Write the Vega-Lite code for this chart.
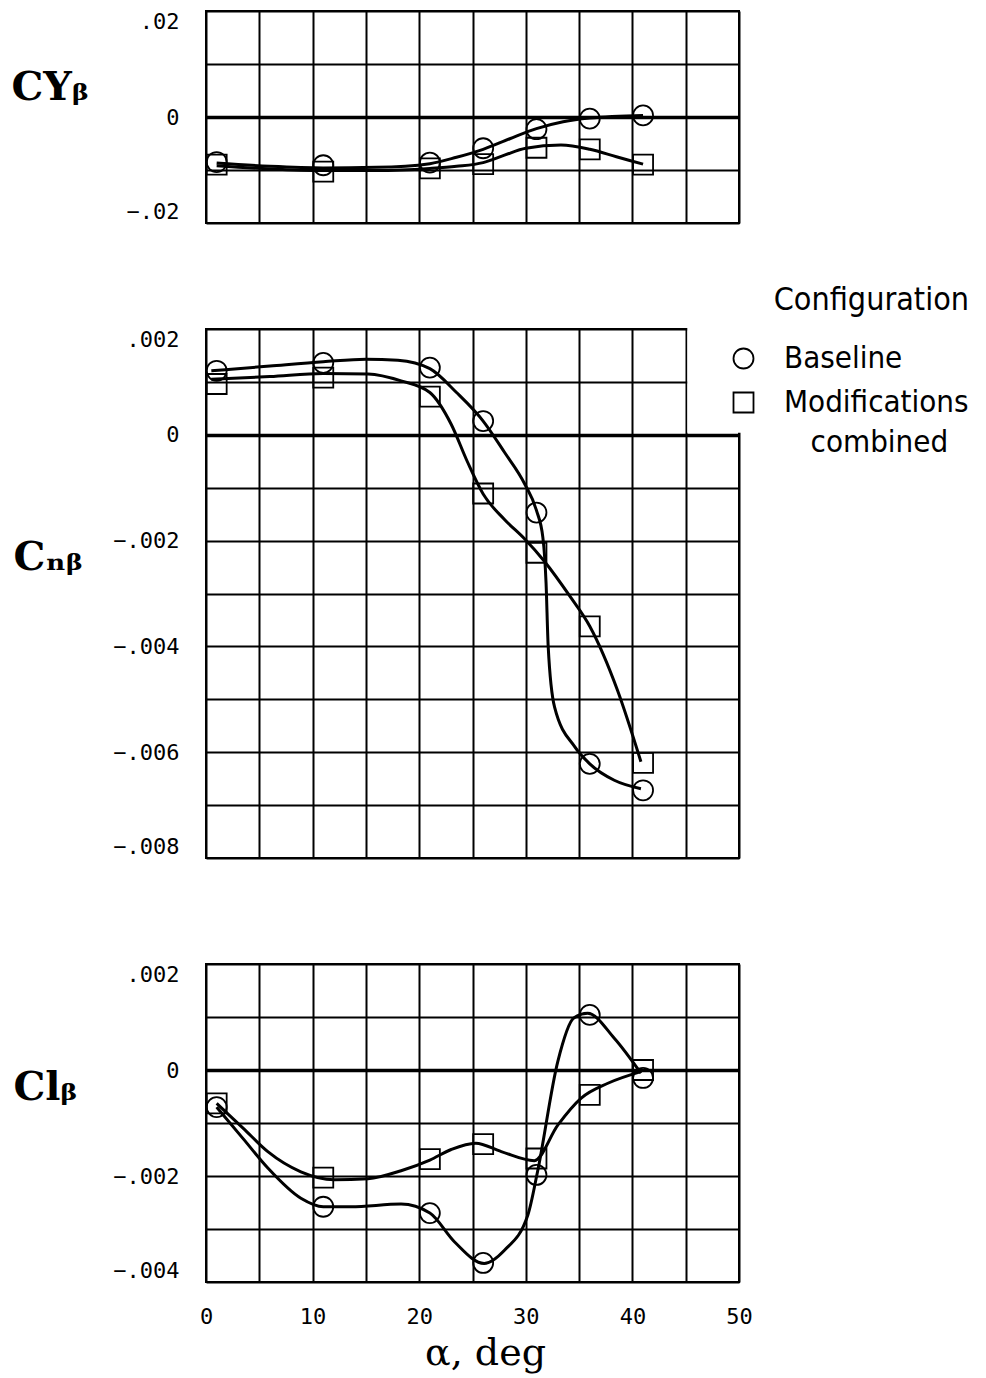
{
"$schema": "https://vega.github.io/schema/vega-lite/v6.json",
"background": "white",
"padding": {"left": 10, "top": 9, "right": 4, "bottom": 4},
"autosize": {"type": "pad"},
"bounds": "flush",
"spacing": 106,
"config": {
 "view": {"stroke": "black", "strokeWidth": 2},
 "style": {"guide-label": {"lineHeight": 40}},
 "axis": {"gridColor": "black", "gridOpacity": 1, "domain": false, "ticks": false, "labelColor": "black", "labelFont": "DejaVu Sans Mono", "labelFontSize": 22, "titleColor": "black", "labelOverlap": false}
},
"datasets": {"d": [
{"panel":"CY","kind":"pt","config":"Baseline","alpha":1,"value":-0.0085},
{"panel":"CY","kind":"pt","config":"Baseline","alpha":11,"value":-0.0091},
{"panel":"CY","kind":"pt","config":"Baseline","alpha":21,"value":-0.0086},
{"panel":"CY","kind":"pt","config":"Baseline","alpha":26,"value":-0.0059},
{"panel":"CY","kind":"pt","config":"Baseline","alpha":31,"value":-0.0023},
{"panel":"CY","kind":"pt","config":"Baseline","alpha":36,"value":-0.0003},
{"panel":"CY","kind":"pt","config":"Baseline","alpha":41,"value":0.0003},
{"panel":"CY","kind":"pt","config":"Modifications combined","alpha":1,"value":-0.0090},
{"panel":"CY","kind":"pt","config":"Modifications combined","alpha":11,"value":-0.0103},
{"panel":"CY","kind":"pt","config":"Modifications combined","alpha":21,"value":-0.0097},
{"panel":"CY","kind":"pt","config":"Modifications combined","alpha":26,"value":-0.0089},
{"panel":"CY","kind":"pt","config":"Modifications combined","alpha":31,"value":-0.0058},
{"panel":"CY","kind":"pt","config":"Modifications combined","alpha":36,"value":-0.0061},
{"panel":"CY","kind":"pt","config":"Modifications combined","alpha":41,"value":-0.0090},
{"panel":"CY","kind":"cv","config":"Baseline","alpha":1,"value":-0.0087},
{"panel":"CY","kind":"cv","config":"Baseline","alpha":6,"value":-0.0093},
{"panel":"CY","kind":"cv","config":"Baseline","alpha":11,"value":-0.0096},
{"panel":"CY","kind":"cv","config":"Baseline","alpha":16,"value":-0.0095},
{"panel":"CY","kind":"cv","config":"Baseline","alpha":21,"value":-0.0088},
{"panel":"CY","kind":"cv","config":"Baseline","alpha":23.5,"value":-0.0076},
{"panel":"CY","kind":"cv","config":"Baseline","alpha":26,"value":-0.0061},
{"panel":"CY","kind":"cv","config":"Baseline","alpha":28.5,"value":-0.0041},
{"panel":"CY","kind":"cv","config":"Baseline","alpha":31,"value":-0.0022},
{"panel":"CY","kind":"cv","config":"Baseline","alpha":33.5,"value":-0.0009},
{"panel":"CY","kind":"cv","config":"Baseline","alpha":36,"value":-0.0002},
{"panel":"CY","kind":"cv","config":"Baseline","alpha":41,"value":0.0003},
{"panel":"CY","kind":"cv","config":"Modifications combined","alpha":1,"value":-0.0092},
{"panel":"CY","kind":"cv","config":"Modifications combined","alpha":6,"value":-0.0098},
{"panel":"CY","kind":"cv","config":"Modifications combined","alpha":11,"value":-0.0101},
{"panel":"CY","kind":"cv","config":"Modifications combined","alpha":16,"value":-0.0101},
{"panel":"CY","kind":"cv","config":"Modifications combined","alpha":21,"value":-0.0097},
{"panel":"CY","kind":"cv","config":"Modifications combined","alpha":23.5,"value":-0.0093},
{"panel":"CY","kind":"cv","config":"Modifications combined","alpha":26,"value":-0.0086},
{"panel":"CY","kind":"cv","config":"Modifications combined","alpha":28,"value":-0.0072},
{"panel":"CY","kind":"cv","config":"Modifications combined","alpha":30,"value":-0.0059},
{"panel":"CY","kind":"cv","config":"Modifications combined","alpha":33.3,"value":-0.0053},
{"panel":"CY","kind":"cv","config":"Modifications combined","alpha":36,"value":-0.0061},
{"panel":"CY","kind":"cv","config":"Modifications combined","alpha":38.5,"value":-0.0075},
{"panel":"CY","kind":"cv","config":"Modifications combined","alpha":41,"value":-0.0089},
{"panel":"CN","kind":"pt","config":"Baseline","alpha":1,"value":0.00121},
{"panel":"CN","kind":"pt","config":"Baseline","alpha":11,"value":0.00136},
{"panel":"CN","kind":"pt","config":"Baseline","alpha":21,"value":0.00127},
{"panel":"CN","kind":"pt","config":"Baseline","alpha":26,"value":0.00026},
{"panel":"CN","kind":"pt","config":"Baseline","alpha":31,"value":-0.00147},
{"panel":"CN","kind":"pt","config":"Baseline","alpha":36,"value":-0.00622},
{"panel":"CN","kind":"pt","config":"Baseline","alpha":41,"value":-0.00672},
{"panel":"CN","kind":"pt","config":"Modifications combined","alpha":1,"value":0.00096},
{"panel":"CN","kind":"pt","config":"Modifications combined","alpha":11,"value":0.00108},
{"panel":"CN","kind":"pt","config":"Modifications combined","alpha":21,"value":0.00072},
{"panel":"CN","kind":"pt","config":"Modifications combined","alpha":26,"value":-0.00111},
{"panel":"CN","kind":"pt","config":"Modifications combined","alpha":31,"value":-0.00223},
{"panel":"CN","kind":"pt","config":"Modifications combined","alpha":36,"value":-0.00362},
{"panel":"CN","kind":"pt","config":"Modifications combined","alpha":41,"value":-0.0062},
{"panel":"CN","kind":"cv","config":"Baseline","alpha":0.5,"value":0.00121},
{"panel":"CN","kind":"cv","config":"Baseline","alpha":6,"value":0.0013},
{"panel":"CN","kind":"cv","config":"Baseline","alpha":11,"value":0.00138},
{"panel":"CN","kind":"cv","config":"Baseline","alpha":15,"value":0.00143},
{"panel":"CN","kind":"cv","config":"Baseline","alpha":18,"value":0.00141},
{"panel":"CN","kind":"cv","config":"Baseline","alpha":21,"value":0.00125},
{"panel":"CN","kind":"cv","config":"Baseline","alpha":23.5,"value":0.0008},
{"panel":"CN","kind":"cv","config":"Baseline","alpha":26,"value":0.00026},
{"panel":"CN","kind":"cv","config":"Baseline","alpha":28,"value":-0.00033},
{"panel":"CN","kind":"cv","config":"Baseline","alpha":29.9,"value":-0.00093},
{"panel":"CN","kind":"cv","config":"Baseline","alpha":31,"value":-0.00143},
{"panel":"CN","kind":"cv","config":"Baseline","alpha":31.6,"value":-0.00194},
{"panel":"CN","kind":"cv","config":"Baseline","alpha":31.9,"value":-0.0028},
{"panel":"CN","kind":"cv","config":"Baseline","alpha":32.1,"value":-0.004},
{"panel":"CN","kind":"cv","config":"Baseline","alpha":32.7,"value":-0.00515},
{"panel":"CN","kind":"cv","config":"Baseline","alpha":34.6,"value":-0.0059},
{"panel":"CN","kind":"cv","config":"Baseline","alpha":36,"value":-0.00622},
{"panel":"CN","kind":"cv","config":"Baseline","alpha":38.3,"value":-0.00653},
{"panel":"CN","kind":"cv","config":"Baseline","alpha":40.8,"value":-0.00669},
{"panel":"CN","kind":"cv","config":"Modifications combined","alpha":0.5,"value":0.00105},
{"panel":"CN","kind":"cv","config":"Modifications combined","alpha":6,"value":0.0011},
{"panel":"CN","kind":"cv","config":"Modifications combined","alpha":11,"value":0.00116},
{"panel":"CN","kind":"cv","config":"Modifications combined","alpha":15.2,"value":0.00115},
{"panel":"CN","kind":"cv","config":"Modifications combined","alpha":18.3,"value":0.00102},
{"panel":"CN","kind":"cv","config":"Modifications combined","alpha":21,"value":0.0008},
{"panel":"CN","kind":"cv","config":"Modifications combined","alpha":23,"value":0.0002},
{"panel":"CN","kind":"cv","config":"Modifications combined","alpha":24.5,"value":-0.0005},
{"panel":"CN","kind":"cv","config":"Modifications combined","alpha":26,"value":-0.00112},
{"panel":"CN","kind":"cv","config":"Modifications combined","alpha":28,"value":-0.0016},
{"panel":"CN","kind":"cv","config":"Modifications combined","alpha":29.9,"value":-0.00197},
{"panel":"CN","kind":"cv","config":"Modifications combined","alpha":31.7,"value":-0.00238},
{"panel":"CN","kind":"cv","config":"Modifications combined","alpha":34.2,"value":-0.00307},
{"panel":"CN","kind":"cv","config":"Modifications combined","alpha":36,"value":-0.00362},
{"panel":"CN","kind":"cv","config":"Modifications combined","alpha":38.6,"value":-0.00483},
{"panel":"CN","kind":"cv","config":"Modifications combined","alpha":40.8,"value":-0.00618},
{"panel":"CL","kind":"pt","config":"Baseline","alpha":1,"value":-0.0007},
{"panel":"CL","kind":"pt","config":"Baseline","alpha":11,"value":-0.00258},
{"panel":"CL","kind":"pt","config":"Baseline","alpha":21,"value":-0.0027},
{"panel":"CL","kind":"pt","config":"Baseline","alpha":26,"value":-0.00364},
{"panel":"CL","kind":"pt","config":"Baseline","alpha":31,"value":-0.00198},
{"panel":"CL","kind":"pt","config":"Baseline","alpha":36,"value":0.00104},
{"panel":"CL","kind":"pt","config":"Baseline","alpha":41,"value":-0.00015},
{"panel":"CL","kind":"pt","config":"Modifications combined","alpha":1,"value":-0.00063},
{"panel":"CL","kind":"pt","config":"Modifications combined","alpha":11,"value":-0.00203},
{"panel":"CL","kind":"pt","config":"Modifications combined","alpha":21,"value":-0.00168},
{"panel":"CL","kind":"pt","config":"Modifications combined","alpha":26,"value":-0.0014},
{"panel":"CL","kind":"pt","config":"Modifications combined","alpha":31,"value":-0.00167},
{"panel":"CL","kind":"pt","config":"Modifications combined","alpha":36,"value":-0.00047},
{"panel":"CL","kind":"pt","config":"Modifications combined","alpha":41,"value":0.0},
{"panel":"CL","kind":"cv","config":"Baseline","alpha":1,"value":-0.0007},
{"panel":"CL","kind":"cv","config":"Baseline","alpha":3.5,"value":-0.0013},
{"panel":"CL","kind":"cv","config":"Baseline","alpha":5.8,"value":-0.00185},
{"panel":"CL","kind":"cv","config":"Baseline","alpha":8.9,"value":-0.00242},
{"panel":"CL","kind":"cv","config":"Baseline","alpha":11,"value":-0.00258},
{"panel":"CL","kind":"cv","config":"Baseline","alpha":13.6,"value":-0.00258},
{"panel":"CL","kind":"cv","config":"Baseline","alpha":18.3,"value":-0.00253},
{"panel":"CL","kind":"cv","config":"Baseline","alpha":21,"value":-0.0027},
{"panel":"CL","kind":"cv","config":"Baseline","alpha":23.3,"value":-0.00324},
{"panel":"CL","kind":"cv","config":"Baseline","alpha":26.1,"value":-0.00365},
{"panel":"CL","kind":"cv","config":"Baseline","alpha":28,"value":-0.0034},
{"panel":"CL","kind":"cv","config":"Baseline","alpha":30.2,"value":-0.00273},
{"panel":"CL","kind":"cv","config":"Baseline","alpha":31.1,"value":-0.00192},
{"panel":"CL","kind":"cv","config":"Baseline","alpha":33,"value":0.00016},
{"panel":"CL","kind":"cv","config":"Baseline","alpha":34.5,"value":0.00098},
{"panel":"CL","kind":"cv","config":"Baseline","alpha":35.8,"value":0.00107},
{"panel":"CL","kind":"cv","config":"Baseline","alpha":38.3,"value":0.0006},
{"panel":"CL","kind":"cv","config":"Baseline","alpha":40.8,"value":-0.00006},
{"panel":"CL","kind":"cv","config":"Modifications combined","alpha":1,"value":-0.00063},
{"panel":"CL","kind":"cv","config":"Modifications combined","alpha":3.5,"value":-0.0011},
{"panel":"CL","kind":"cv","config":"Modifications combined","alpha":5.8,"value":-0.00154},
{"panel":"CL","kind":"cv","config":"Modifications combined","alpha":8.9,"value":-0.00192},
{"panel":"CL","kind":"cv","config":"Modifications combined","alpha":12,"value":-0.00207},
{"panel":"CL","kind":"cv","config":"Modifications combined","alpha":15.2,"value":-0.00205},
{"panel":"CL","kind":"cv","config":"Modifications combined","alpha":18.3,"value":-0.0019},
{"panel":"CL","kind":"cv","config":"Modifications combined","alpha":21,"value":-0.0017},
{"panel":"CL","kind":"cv","config":"Modifications combined","alpha":23,"value":-0.0015},
{"panel":"CL","kind":"cv","config":"Modifications combined","alpha":25.3,"value":-0.00138},
{"panel":"CL","kind":"cv","config":"Modifications combined","alpha":27.7,"value":-0.00154},
{"panel":"CL","kind":"cv","config":"Modifications combined","alpha":30.8,"value":-0.00171},
{"panel":"CL","kind":"cv","config":"Modifications combined","alpha":33,"value":-0.00104},
{"panel":"CL","kind":"cv","config":"Modifications combined","alpha":35.2,"value":-0.00053},
{"panel":"CL","kind":"cv","config":"Modifications combined","alpha":37.7,"value":-0.00025},
{"panel":"CL","kind":"cv","config":"Modifications combined","alpha":40.8,"value":-0.00003}
]},
"vconcat": [
{
 "width": 533, "height": 212,
 "data": {"name": "d"},
 "transform": [{"filter": "datum.panel == 'CY'"}],
 "encoding": {
  "x": {"field": "alpha", "type": "quantitative", "scale": {"domain": [0, 50], "nice": false},
   "axis": {"values": [0,5,10,15,20,25,30,35,40,45,50], "labels": false, "title": null, "grid": true, "gridWidth": 2}},
  "y": {"field": "value", "type": "quantitative", "scale": {"domain": [-0.02, 0.02], "nice": false, "zero": false},
   "axis": {"values": [-0.02,-0.01,0,0.01,0.02], "grid": true,
    "labelExpr": "datum.value == 0 ? '0' : (abs(round(datum.value*100)) % 2 == 1 ? '' : replace(format(datum.value, '.2f'), '0.', '.'))",
    "labelFlush": true, "labelPadding": 27,
    "gridWidth": {"condition": {"test": "datum.value === 0", "value": 3.5}, "value": 2},
    "title": "CYᵦ", "titleAngle": 0, "titleAlign": "left", "titleBaseline": "alphabetic", "titleX": -195, "titleY": 88,
    "titleFont": "DejaVu Serif", "titleFontWeight": "bold", "titleFontSize": 40}}
 },
 "layer": [
  {"transform": [{"filter": "datum.kind == 'cv'"}], "mark": {"type": "line", "interpolate": "monotone", "strokeWidth": 3, "color": "black"}, "encoding": {"detail": {"field": "config"}}},
  {"transform": [{"filter": "datum.kind == 'pt'"}], "mark": {"type": "point", "filled": false, "color": "black", "strokeWidth": 1.8, "size": 400, "opacity": 1},
   "encoding": {"shape": {"field": "config", "type": "nominal", "scale": {"domain": ["Baseline", "Modifications combined"], "range": ["circle", "square"]}, "legend": null}}}
 ]
},
{
 "width": 533, "height": 529,
 "data": {"name": "d"},
 "transform": [{"filter": "datum.panel == 'CN'"}],
 "encoding": {
  "x": {"field": "alpha", "type": "quantitative", "scale": {"domain": [0, 50], "nice": false},
   "axis": {"values": [0,5,10,15,20,25,30,35,40,45,50], "labels": false, "title": null, "grid": true, "gridWidth": 2}},
  "y": {"field": "value", "type": "quantitative", "scale": {"domain": [-0.008, 0.002], "nice": false, "zero": false},
   "axis": {"values": [-0.008,-0.007,-0.006,-0.005,-0.004,-0.003,-0.002,-0.001,0,0.001,0.002], "grid": true,
    "labelExpr": "datum.value == 0 ? '0' : (abs(round(datum.value*1000)) % 2 == 1 ? '' : replace(format(datum.value, '.3f'), '0.', '.'))",
    "labelFlush": true, "labelPadding": 27,
    "gridWidth": {"condition": {"test": "datum.value === 0", "value": 3.5}, "value": 2},
    "title": "Cₙᵦ", "titleAngle": 0, "titleAlign": "left", "titleBaseline": "alphabetic", "titleX": -193, "titleY": 240,
    "titleFont": "DejaVu Serif", "titleFontWeight": "bold", "titleFontSize": 40}}
 },
 "layer": [
  {"transform": [{"filter": "datum.kind == 'pt' && datum.alpha == 1 && datum.config == 'Baseline'"}], "mark": {"type": "rect", "color": "white", "clip": false},
   "encoding": {"x": {"datum": 45.15, "type": "quantitative"}, "x2": {"datum": 50.6}, "y": {"datum": 0.00004, "type": "quantitative"}, "y2": {"datum": 0.00212}}},
  {"transform": [{"filter": "datum.kind == 'cv'"}], "mark": {"type": "line", "interpolate": "monotone", "strokeWidth": 3, "color": "black"}, "encoding": {"detail": {"field": "config"}}},
  {"transform": [{"filter": "datum.kind == 'pt'"}], "mark": {"type": "point", "filled": false, "color": "black", "strokeWidth": 1.8, "size": 400, "opacity": 1},
   "encoding": {"shape": {"field": "config", "type": "nominal", "scale": {"domain": ["Baseline", "Modifications combined"], "range": ["circle", "square"]},
    "legend": {"orient": "none", "legendX": 522, "legendY": -44, "padding": 0, "title": "Configuration",
     "titleFont": "DejaVu Sans Condensed", "titleFontSize": 32, "titleFontWeight": "normal", "titleColor": "black", "titleAnchor": "end", "titlePadding": 26, "titleLimit": 400,
     "labelFont": "DejaVu Sans Condensed", "labelFontSize": 31, "labelColor": "black", "labelOffset": 25, "labelLimit": 0,
     "symbolSize": 400, "symbolStrokeColor": "black", "symbolStrokeWidth": 1.8, "symbolFillColor": "transparent", "rowPadding": 12,
     "labelExpr": "datum.label == 'Modifications combined' ? ['Modifications', '\u200b\u00a0\u00a0\u00a0combined'] : datum.label"}}}}
 ]
},
{
 "width": 533, "height": 318,
 "data": {"name": "d"},
 "transform": [{"filter": "datum.panel == 'CL'"}],
 "encoding": {
  "x": {"field": "alpha", "type": "quantitative", "scale": {"domain": [0, 50], "nice": false},
   "axis": {"values": [0,5,10,15,20,25,30,35,40,45,50], "grid": true, "gridWidth": 2,
    "labelExpr": "datum.value % 10 == 0 ? datum.label : ''", "labelFlush": false, "labelPadding": 24,
    "title": "α, deg", "titleFont": "DejaVu Serif", "titleFontSize": 38, "titleFontWeight": "normal", "titlePadding": 7, "titleX": 279}},
  "y": {"field": "value", "type": "quantitative", "scale": {"domain": [-0.004, 0.002], "nice": false, "zero": false},
   "axis": {"values": [-0.004,-0.003,-0.002,-0.001,0,0.001,0.002], "grid": true,
    "labelExpr": "datum.value == 0 ? '0' : (abs(round(datum.value*1000)) % 2 == 1 ? '' : replace(format(datum.value, '.3f'), '0.', '.'))",
    "labelFlush": true, "labelPadding": 27,
    "gridWidth": {"condition": {"test": "datum.value === 0", "value": 3.5}, "value": 2},
    "title": "Clᵦ", "titleAngle": 0, "titleAlign": "left", "titleBaseline": "alphabetic", "titleX": -193, "titleY": 135,
    "titleFont": "DejaVu Serif", "titleFontWeight": "bold", "titleFontSize": 40}}
 },
 "layer": [
  {"transform": [{"filter": "datum.kind == 'cv'"}], "mark": {"type": "line", "interpolate": "monotone", "strokeWidth": 3, "color": "black"}, "encoding": {"detail": {"field": "config"}}},
  {"transform": [{"filter": "datum.kind == 'pt'"}], "mark": {"type": "point", "filled": false, "color": "black", "strokeWidth": 1.8, "size": 400, "opacity": 1},
   "encoding": {"shape": {"field": "config", "type": "nominal", "scale": {"domain": ["Baseline", "Modifications combined"], "range": ["circle", "square"]}, "legend": null}}}
 ]
}
],
"resolve": {"scale": {"y": "independent", "shape": "independent"}, "legend": {"shape": "independent"}, "axis": {"x": "independent", "y": "independent"}}
}
